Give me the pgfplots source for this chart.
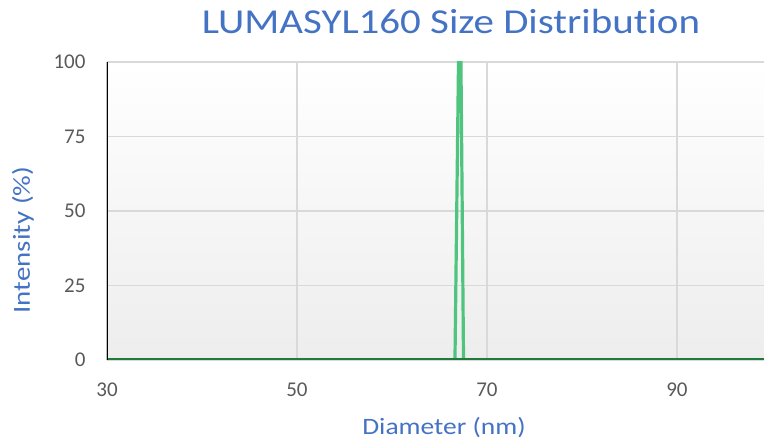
\documentclass[border=0pt]{standalone}
\usepackage{pgfplots}
\pgfplotsset{compat=1.18}
\usepackage{fontspec}
\setmainfont{Carlito}[Ligatures=NoCommon]
\definecolor{titleblue}{HTML}{4472C4}
\definecolor{ticklab}{HTML}{595959}
\definecolor{gridc}{HTML}{D9D9D9}
\definecolor{spike}{HTML}{4FC47F}
\definecolor{dgreen}{HTML}{1E7B3C}
\begin{document}
\begin{tikzpicture}[x=1pt,y=1pt]
\useasboundingbox (0,0) rectangle (764,441);
\begin{axis}[at={(107pt,81pt)}, anchor=south west, scale only axis,
 width=657pt, height=298pt,
 xmin=30, xmax=99.16, ymin=0, ymax=100,
 xtick={30,50,70,90}, ytick={0,25,50,75,100},
 axis line style={draw=none}, tick style={draw=none},
 grid=major, major grid style={gridc, line width=1.2pt},
 axis background/.style={top color=white, bottom color=black!7},
 ticklabel style={font=\fontsize{21}{25}\selectfont, text=ticklab},
 /pgf/number format/assume math mode=true,
 xticklabel style={yshift=-19pt}, yticklabel style={xshift=-18pt},
]
\addplot[spike, line width=3.2pt, line join=miter] coordinates {(66.63,0) (67.15,140) (67.53,0)};
\addplot[dgreen, line width=3.4pt] coordinates {(30,0) (99.16,0)};
\draw[black, line width=3pt] (rel axis cs:0,0) -- (rel axis cs:0,1);
\end{axis}
\node[anchor=base, font=\fontsize{35}{40}\selectfont, text=titleblue] at (451,407) {\scalebox{1.17}[1]{LUMASYL160 Size Distribution}};
\node[anchor=base, font=\fontsize{23.5}{28}\selectfont, text=titleblue] at (444,6) {\scalebox{1.17}[1]{Diameter (nm)}};
\node[rotate=90, font=\fontsize{24.5}{29}\selectfont, text=titleblue] at (23,201) {\scalebox{1.18}[1]{Intensity (\%)}};
\end{tikzpicture}
\end{document}
